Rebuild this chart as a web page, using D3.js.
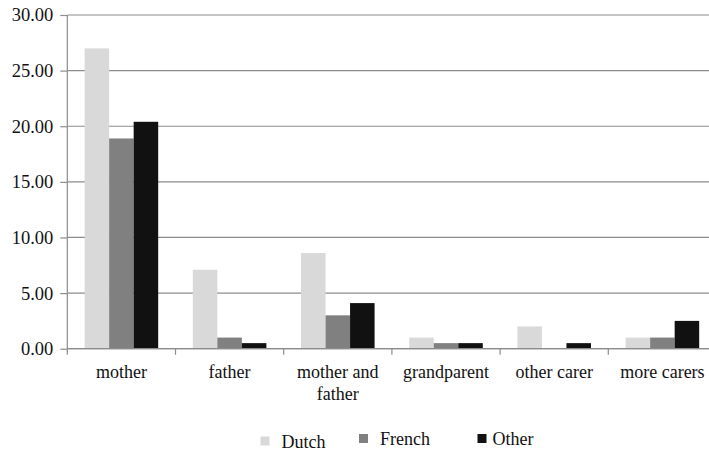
<!DOCTYPE html>
<html>
<head>
<meta charset="utf-8">
<script src="https://cdn.jsdelivr.net/npm/d3@7"></script>
<style>
  html, body { margin: 0; padding: 0; background: #fff; }
  svg { display: block; }
  svg text { font-family: "Liberation Serif", Tinos, "Times New Roman", Times, "DejaVu Serif", serif; }
</style>
</head>
<body>
<svg id="chart" width="709" height="451"></svg>
<script>
// ---- data ----
const categories = ["mother", "father", "mother and father", "grandparent", "other carer", "more carers"];
const seriesNames = ["Dutch", "French", "Other"];
const dutch  = [27.0, 7.1, 8.6, 1.0, 2.0, 1.0];
const french = [18.9, 1.0, 3.0, 0.5, 0.0, 1.0];
const other  = [20.4, 0.5, 4.1, 0.5, 0.5, 2.5];
const yTicks = [0, 5, 10, 15, 20, 25, 30];
const categoryLines = [["mother"], ["father"], ["mother and", "father"], ["grandparent"], ["other carer"], ["more carers"]];

const seriesValues = [dutch, french, other];
const colors = ["#d9d9d9", "#808080", "#111111"];

// ---- layout ----
const svg = d3.select("#chart");
const plotLeft = 67.3, plotRight = 716.5, plotTop = 15, plotBottom = 348.7;

const x0 = d3.scaleBand().domain(categories).range([plotLeft, plotRight])
  .paddingInner(0.32).paddingOuter(0.16);
const x1 = d3.scaleBand().domain(seriesNames).range([0, x0.bandwidth()]);
const y = d3.scaleLinear().domain([0, 30]).range([plotBottom, plotTop]);

const gridColor = "#8c8c8c";

// gridlines
svg.append("g").selectAll("line").data(yTicks).join("line")
  .attr("x1", plotLeft).attr("x2", 709)
  .attr("y1", d => y(d)).attr("y2", d => y(d))
  .attr("stroke", gridColor).attr("stroke-width", 1.2);

// y axis
const yAxis = svg.append("g").attr("transform", `translate(${plotLeft},0)`)
  .call(d3.axisLeft(y).tickValues(yTicks).tickFormat(d3.format(".2f")).tickSize(7).tickPadding(7));
yAxis.attr("font-family", null);
yAxis.select(".domain").remove();
yAxis.selectAll(".tick line").attr("stroke", gridColor).attr("stroke-width", 1.2);
yAxis.selectAll(".tick text").attr("font-size", 18.5).attr("fill", "#111");
svg.append("line").attr("x1", plotLeft).attr("x2", plotLeft).attr("y1", plotTop).attr("y2", plotBottom + 6)
  .attr("stroke", gridColor).attr("stroke-width", 1.2);

// bars
const groups = svg.append("g").selectAll("g").data(categories).join("g")
  .attr("transform", d => `translate(${x0(d)},0)`);
groups.selectAll("rect")
  .data((c, i) => seriesNames.map((s, j) => ({ s, j, v: seriesValues[j][i] })).filter(d => d.v > 0))
  .join("rect")
  .attr("x", d => x1(d.s))
  .attr("width", x1.bandwidth())
  .attr("y", d => y(d.v))
  .attr("height", d => y(0) - y(d.v))
  .attr("fill", d => colors[d.j]);

// x axis baseline + category separators
svg.append("line").attr("x1", plotLeft).attr("x2", 709).attr("y1", plotBottom).attr("y2", plotBottom)
  .attr("stroke", gridColor).attr("stroke-width", 1.2);
const step = x0.step();
svg.append("g").selectAll("line").data(categories.slice(1)).join("line")
  .attr("x1", d => x0(d) - step * x0.paddingInner() / 2)
  .attr("x2", d => x0(d) - step * x0.paddingInner() / 2)
  .attr("y1", plotBottom).attr("y2", plotBottom + 6)
  .attr("stroke", gridColor).attr("stroke-width", 1.2);

// category labels
const labels = svg.append("g").selectAll("text").data(categories).join("text")
  .attr("x", d => x0(d) + x0.bandwidth() / 2)
  .attr("y", 378)
  .attr("text-anchor", "middle")
  .attr("font-size", 18).attr("fill", "#111");
labels.each(function (d, i) {
  const t = d3.select(this);
  categoryLines[i].forEach((line, k) => {
    t.append("tspan").attr("x", x0(d) + x0.bandwidth() / 2)
      .attr("dy", k === 0 ? 0 : 22).text(line);
  });
});

// legend
const legendX = [260.5, 359, 477.5];
const legendY = [447.5, 445, 445];
const lg = svg.append("g").selectAll("g").data(seriesNames).join("g");
lg.append("rect")
  .attr("x", (d, i) => legendX[i])
  .attr("y", (d, i) => legendY[i] - 11)
  .attr("width", 9).attr("height", 9)
  .attr("fill", (d, i) => colors[i]);
lg.append("text")
  .attr("x", (d, i) => legendX[i] + (i === 2 ? 15 : 21))
  .attr("y", (d, i) => legendY[i])
  .attr("font-size", 18).attr("fill", "#111")
  .text(d => d);
</script>
</body>
</html>
